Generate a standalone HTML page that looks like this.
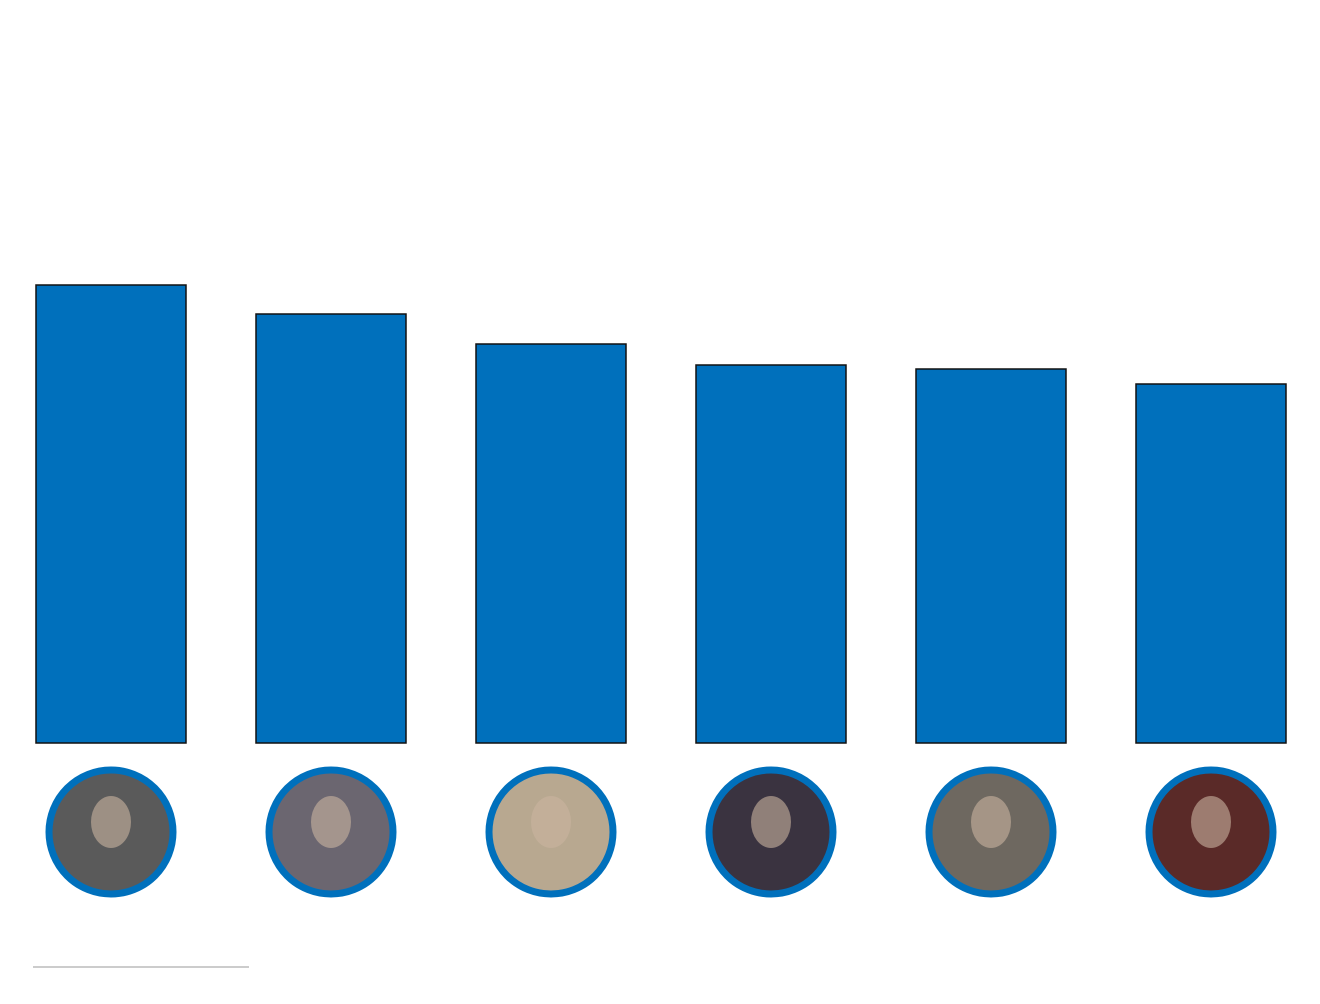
<!DOCTYPE html>
<html><head><meta charset="utf-8">
<style>
html,body{margin:0;padding:0;background:#fff;}
svg{display:block;}
</style></head>
<body>
<svg id="chart" width="1320" height="1004" viewBox="0 0 1320 1004">
<line x1="33" y1="967" x2="249" y2="967" stroke="#cccccc" stroke-width="2"/>
</svg>
<script>
const categories = ["manager-1","manager-2","manager-3","manager-4","manager-5","manager-6"];
const values = [45.8, 42.9, 39.9, 37.8, 37.4, 35.9];
const photoColors = ["#5a5a5a","#6b6670","#b8a890","#3a3340","#6e6860","#5a2a28"];

const svg = document.getElementById('chart');
const NS = 'http://www.w3.org/2000/svg';
const baseY = 743, pxPerUnit = 10;
const x0 = 36, step = 220, barW = 150;
function xScale(i){ return x0 + i*step; }
function yScale(v){ return baseY - v*pxPerUnit; }

categories.forEach((c,i)=>{
  const r = document.createElementNS(NS,'rect');
  r.setAttribute('x', xScale(i));
  r.setAttribute('y', yScale(values[i]));
  r.setAttribute('width', barW);
  r.setAttribute('height', baseY - yScale(values[i]));
  r.setAttribute('fill', '#0070bc');
  r.setAttribute('stroke', '#111');
  r.setAttribute('stroke-width', '1.5');
  
  
  svg.appendChild(r);

  const cx = xScale(i) + barW/2;
  const g = document.createElementNS(NS,'g');
  
  
  const circ = document.createElementNS(NS,'circle');
  circ.setAttribute('cx', cx); circ.setAttribute('cy', 832); circ.setAttribute('r', 62);
  circ.setAttribute('fill', photoColors[i]);
  circ.setAttribute('stroke', '#0070bc'); circ.setAttribute('stroke-width', '7');
  g.appendChild(circ);
  const face = document.createElementNS(NS,'ellipse');
  face.setAttribute('cx', cx); face.setAttribute('cy', 822);
  face.setAttribute('rx', 20); face.setAttribute('ry', 26);
  face.setAttribute('fill', '#c9b4a0'); face.setAttribute('opacity', '0.6');
  g.appendChild(face);
  svg.appendChild(g);
});
</script>
</body></html>
